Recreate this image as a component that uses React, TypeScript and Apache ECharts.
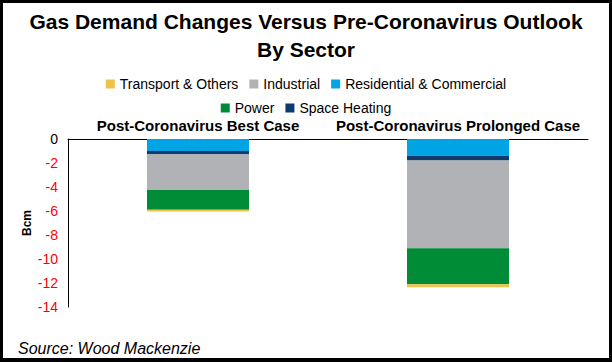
import React, { useEffect, useRef } from "react";
import * as echarts from "echarts";

const categories = ["Post-Coronavirus Best Case", "Post-Coronavirus Prolonged Case"];
const residential = [-1.0, -1.4];
const spaceHeating = [-0.25, -0.4];
const industrial = [-3.0, -7.3];
const power = [-1.65, -3.0];
const transport = [-0.15, -0.25];
const legendRow1 = ["Transport & Others", "Industrial", "Residential & Commercial"];
const legendRow2 = ["Power", "Space Heating"];

const FONT = "'Liberation Sans', Arial, sans-serif";

export default function App() {
  const ref = useRef<HTMLDivElement>(null);
  useEffect(() => {
    if (!ref.current) return;
    const chart = echarts.init(ref.current, undefined, { renderer: "svg" });
    const mk = (name: string, data: number[], color: string) => ({
      name,
      type: "bar",
      stack: "total",
      data,
      barWidth: 102,
      itemStyle: { color },
      emphasis: { disabled: true },
    });
    chart.setOption({
      animation: false,
      backgroundColor: "#fff",
      textStyle: { fontFamily: FONT },
      title: [
        {
          text: "Gas Demand Changes Versus Pre-Coronavirus Outlook\nBy Sector",
          left: "center",
          top: 7,
          padding: 0,
          textStyle: { fontSize: 21, fontWeight: "bold", color: "#000", lineHeight: 28.5, fontFamily: FONT },
        },
        {
          text: "Source: Wood Mackenzie",
          left: 18,
          top: 340,
          padding: 0,
          textStyle: { fontSize: 16, fontWeight: "normal", fontStyle: "italic", color: "#000", fontFamily: FONT },
        },
      ],
      legend: [
        {
          data: legendRow1,
          left: "center",
          top: 77,
          padding: 0,
          itemWidth: 9,
          itemHeight: 9,
          itemGap: 11,
          icon: "rect",
          selectedMode: false,
          textStyle: { fontSize: 14, color: "#000", fontFamily: FONT },
        },
        {
          data: legendRow2,
          left: "center",
          top: 101,
          padding: 0,
          itemWidth: 9,
          itemHeight: 9,
          itemGap: 11,
          icon: "rect",
          selectedMode: false,
          textStyle: { fontSize: 14, color: "#000", fontFamily: FONT },
        },
      ],
      grid: { left: 68, right: 24, top: 139, bottom: 55, containLabel: false },
      xAxis: {
        type: "category",
        position: "top",
        data: categories,
        axisLine: { show: true, lineStyle: { color: "#000", width: 1 } },
        axisTick: { show: false },
        axisLabel: { interval: 0, fontSize: 15, fontWeight: "bold", color: "#000", margin: 6, fontFamily: FONT },
      },
      yAxis: {
        type: "value",
        min: -14,
        max: 0,
        interval: 2,
        name: "Bcm",
        nameLocation: "middle",
        nameRotate: 90,
        nameGap: 35,
        nameMoveOverlap: false,
        nameTextStyle: { fontSize: 12, fontWeight: "bold", color: "#000", fontFamily: FONT },
        axisLine: { show: true, lineStyle: { color: "#000", width: 1 } },
        axisTick: { show: false },
        splitLine: { show: false },
        axisLabel: {
          fontSize: 14,
          margin: 10,
          fontFamily: FONT,
          color: (v: any) => (Number(v) === 0 ? "#000" : "#FF0000"),
        },
      },
      series: [
        mk("Residential & Commercial", residential, "#00A3E4"),
        mk("Space Heating", spaceHeating, "#0E3A6E"),
        mk("Industrial", industrial, "#B1B2B5"),
        mk("Power", power, "#008B36"),
        mk("Transport & Others", transport, "#EEC24B"),
      ],
    });
    return () => chart.dispose();
  }, []);
  return (
    <div style={{ position: "fixed", left: 0, top: 0, width: 612, height: 362 }}>
      <div ref={ref} style={{ position: "absolute", left: 0, top: 0, width: 612, height: 362 }} />
      <div
        style={{
          position: "absolute",
          left: 0,
          top: 0,
          width: 612,
          height: 362,
          boxSizing: "border-box",
          borderStyle: "solid",
          borderColor: "#000",
          borderWidth: "3px 3px 4px 3px",
          pointerEvents: "none",
        }}
      />
    </div>
  );
}
